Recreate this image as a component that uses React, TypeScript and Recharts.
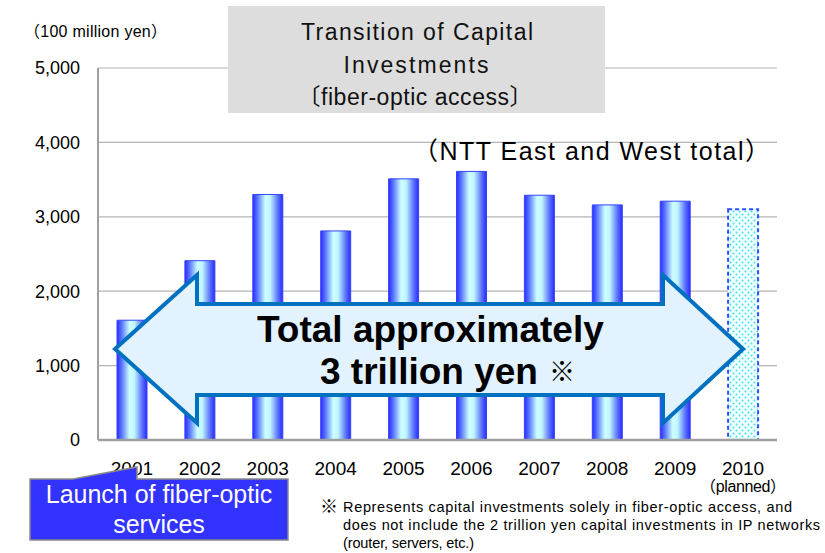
import React from "react";
import { BarChart, Bar, Cell, XAxis, YAxis, CartesianGrid } from "recharts";

// capital investments in fiber-optic access, 100 million yen
const YEARS = ["2001", "2002", "2003", "2004", "2005", "2006", "2007", "2008", "2009", "2010"];
const INVESTMENT = [1610, 2410, 3300, 2810, 3510, 3610, 3290, 3160, 3210, 3100];
const PLANNED = [false, false, false, false, false, false, false, false, false, true];
const Y_TICKS = [0, 1000, 2000, 3000, 4000, 5000];

const data = YEARS.map((year, i) => ({ year, value: INVESTMENT[i], planned: PLANNED[i] }));

const FONT = "'Liberation Sans', Arial, 'Noto Sans CJK JP', sans-serif";
const axisGray = "#A0A0A0";

const fmt = (v: number) => v.toLocaleString("en-US");

// eslint-disable-next-line @typescript-eslint/no-explicit-any
function YearTick(props: any) {
  const { x, y, payload } = props;
  const i = YEARS.indexOf(String(payload.value));
  return (
    <g>
      <text x={x} y={y + 35} textAnchor="middle" fontSize={19} fill="#000" fontFamily={FONT}>
        {payload.value}
      </text>
      {PLANNED[i] && (
        <text x={x} y={y + 52} textAnchor="middle" fontSize={16} fill="#000" fontFamily={FONT} textLength={86} lengthAdjust="spacing">
          （planned）
        </text>
      )}
    </g>
  );
}

function Overlay() {
  return (
    <svg width={825} height={553} style={{ position: "absolute", left: 0, top: 0, pointerEvents: "none" }}>
      {/* unit label */}
      <text x={24} y={37} fontSize={16} fontFamily={FONT} fill="#000" textLength={143} lengthAdjust="spacing">
        （100 million yen）
      </text>

      {/* title box */}
      <rect x={228} y={6} width={377} height={107} fill="#DDDDDD" />
      <text x={417} y={40} textAnchor="middle" fontSize={23} fontFamily={FONT} fill="#111" textLength={232} lengthAdjust="spacing">
        Transition of Capital
      </text>
      <text x={416} y={73} textAnchor="middle" fontSize={23} fontFamily={FONT} fill="#111" textLength={145} lengthAdjust="spacing">
        Investments
      </text>
      <text x={415} y={105} textAnchor="middle" fontSize={23} fontFamily={FONT} fill="#111" textLength={235} lengthAdjust="spacing">
        〔fiber-optic access〕
      </text>

      <text x={413} y={160} fontSize={25} fontFamily={FONT} fill="#000" textLength={357} lengthAdjust="spacing">
        （NTT East and West total）
      </text>

      {/* double arrow */}
      <polygon
        points="115,349 197,275 197,304 663,304 663,275 743,349 663,423 663,395 197,395 197,423"
        fill="#E2F2FF"
        stroke="#0070C0"
        strokeWidth={4}
        strokeLinejoin="miter"
      />
      <text x={257} y={342} fontSize={37} fontWeight="bold" fontFamily={FONT} fill="#000">
        Total approximately
      </text>
      <text x={320} y={384} fontSize={37} fontWeight="bold" fontFamily={FONT} fill="#000">
        3 trillion yen
      </text>
      <text x={549} y={381} fontSize={26} fontFamily={FONT} fill="#000">※</text>

      {/* launch callout */}
      <polygon
        points="30,479 73,479 137,467 137,479 288,479 288,540 30,540"
        fill="#3333FF"
        stroke="#8A8A8A"
        strokeWidth={1.5}
      />
      <text x={159} y={503} textAnchor="middle" fontSize={25} fontFamily={FONT} fill="#fff">
        Launch of fiber-optic
      </text>
      <text x={159} y={533} textAnchor="middle" fontSize={25} fontFamily={FONT} fill="#fff">
        services
      </text>

      {/* footnote */}
      <text x={320} y={513} fontSize={18} fontFamily={FONT} fill="#000">※</text>
      <text x={343} y={512} fontSize={14.5} fontFamily={FONT} fill="#000" textLength={449} lengthAdjust="spacing">
        Represents capital investments solely in fiber-optic access, and
      </text>
      <text x={343} y={530} fontSize={14.5} fontFamily={FONT} fill="#000" textLength={477} lengthAdjust="spacing">
        does not include the 2 trillion yen capital investments in IP networks
      </text>
      <text x={343} y={548} fontSize={14.5} fontFamily={FONT} fill="#000" textLength={131} lengthAdjust="spacing">
        (router, servers, etc.)
      </text>
    </svg>
  );
}

export default function App() {
  return (
    <div style={{ position: "absolute", left: 0, top: 0, width: 825, height: 553, background: "#fff", fontFamily: FONT }}>
      <BarChart width={825} height={553} data={data} margin={{ top: 68, right: 48, bottom: 53, left: 0 }} barCategoryGap={0}>
        <defs>
          <linearGradient id="cyl" x1="0" y1="0" x2="1" y2="0">
            <stop offset="0%" stopColor="#2A2AFF" />
            <stop offset="16%" stopColor="#5A78FF" />
            <stop offset="42%" stopColor="#CCFFFF" />
            <stop offset="58%" stopColor="#C0F6FF" />
            <stop offset="84%" stopColor="#5A70FF" />
            <stop offset="100%" stopColor="#2A2AFF" />
          </linearGradient>
          <pattern id="dots" width={6} height={6} patternUnits="userSpaceOnUse">
            <rect width={6} height={6} fill="#F0FFFF" />
            <circle cx={1.5} cy={1.5} r={1} fill="#40E0F0" />
            <circle cx={4.5} cy={4.5} r={1} fill="#40E0F0" />
          </pattern>
        </defs>
        <CartesianGrid vertical={false} stroke="#B4B4B4" strokeWidth={1.2} />
        <XAxis
          dataKey="year"
          height={60}
          tickLine={false}
          tickSize={0}
          tickMargin={0}
          axisLine={{ stroke: axisGray, strokeWidth: 2.5 }}
          tick={<YearTick />}
          interval={0}
        />
        <YAxis
          width={98}
          domain={[0, 5000]}
          ticks={Y_TICKS}
          tickFormatter={fmt}
          tickLine={false}
          tickSize={0}
          tickMargin={18}
          axisLine={{ stroke: axisGray, strokeWidth: 2 }}
          tick={{ fontSize: 18, fill: "#000", fontFamily: FONT }}
        />
        <YAxis
          yAxisId="frame"
          orientation="right"
          width={0}
          domain={[0, 5000]}
          tick={false}
          tickLine={false}
          axisLine={{ stroke: axisGray, strokeWidth: 2 }}
        />
        <Bar dataKey="value" barSize={30} isAnimationActive={false}>
          {data.map((d, i) =>
            d.planned ? (
              <Cell key={i} fill="url(#dots)" stroke="#2A50FF" strokeWidth={2} strokeDasharray="4 3" />
            ) : (
              <Cell key={i} fill="url(#cyl)" stroke="#3344FF" strokeWidth={1} />
            )
          )}
        </Bar>
      </BarChart>
      <Overlay />
    </div>
  );
}
